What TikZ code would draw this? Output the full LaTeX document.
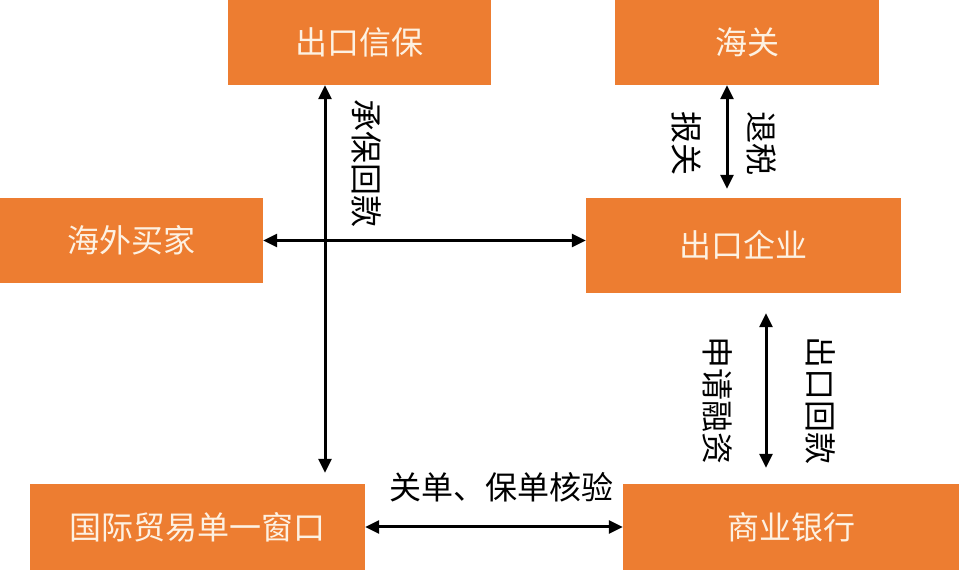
\documentclass[tikz,border=0pt]{standalone}
\usepackage{fontspec}
\setmainfont{Noto Sans CJK SC}
\usetikzlibrary{%
    arrows.meta,%
    calc%
}
\definecolor{boxorange}{HTML}{ED7D31}
\definecolor{boxtext}{HTML}{FDF1E2}

\begin{document}
\begin{tikzpicture}[
    x=1pt,y=1pt,
    party/.style={fill=boxorange,text=boxtext,inner sep=0pt,
        font={\fontsize{32}{38}\selectfont}},
    flow/.style={{Triangle[width=13pt,length=14pt]}-{Triangle[width=13pt,length=14pt]},
        line width=3pt,black},
    tag/.style={font={\fontsize{32}{38}\selectfont},inner sep=0pt},
    vtag/.style={tag,rotate=-90},
    ]

    % Page frame
    \useasboundingbox (0,0) rectangle (959,570);

    % Boxes
    \node[party,minimum width=263,minimum height=85] (baoxin) at (359.5,527.5) {出口信保};
    \node[party,minimum width=264,minimum height=85] (haiguan) at (747,527.5) {海关};
    \node[party,minimum width=263,minimum height=85] (maijia) at (131.5,329.5) {海外买家};
    \node[party,minimum width=315,minimum height=95] (qiye) at (743.5,324.5) {出口企业};
    \node[party,minimum width=335,minimum height=86] (chuangkou) at (197.5,43) {国际贸易单一窗口};
    \node[party,minimum width=336,minimum height=86] (yinhang) at (791,43) {商业银行};

    % Arrow columns
    \coordinate (col1) at (325,0);
    \coordinate (col2) at (727,0);
    \coordinate (col3) at (766,0);

    \draw[flow] (baoxin.south -| col1) -- ([yshift=11pt]chuangkou.north -| col1);
    \draw[flow] (haiguan.south -| col2) -- ([yshift=9pt]qiye.north -| col2);
    \draw[flow] ([yshift=-20pt]qiye.south -| col3) -- ([yshift=16pt]yinhang.north -| col3);
    \draw[flow] (maijia.east) -- (maijia.east -| qiye.west);
    \draw[flow] (chuangkou.east) -- (yinhang.west);

    % Labels
    \node[vtag] (chengbao) at (367,406.5) {承保回款};
    \node[vtag] (baoguan) at (687,426) {报关};
    \node[vtag] (tuishui) at (762,426) {退税};
    \node[vtag] (rongzi) at (718,169) {申请融资};
    \node[vtag] (huikuan) at (821,169) {出口回款};
    \node[tag] (hedan) at (501,83) {关单、保单核验};
\end{tikzpicture}
\end{document}
